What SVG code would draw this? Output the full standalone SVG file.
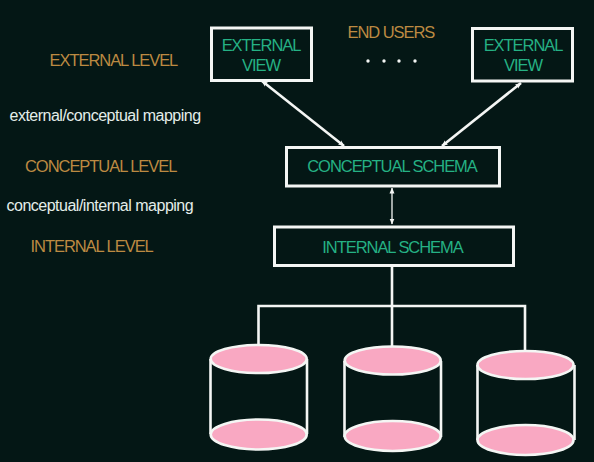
<svg xmlns="http://www.w3.org/2000/svg" width="594" height="462" viewBox="0 0 594 462">
<style>
text{font-family:"Liberation Sans",Arial,sans-serif;font-size:16.5px;letter-spacing:-1.05px}
.g{fill:#25b184;text-anchor:middle}
.o{fill:#bc8a42}
.w{fill:#e4eeea;font-size:16px;letter-spacing:-.5px}
.b{fill:none;stroke:#f4f6f4;stroke-width:3}
.c{fill:none;stroke:#f4f6f4;stroke-width:2.6}
.p{fill:#f9a8c2;stroke:#f4f6f4;stroke-width:2.6}
.l{fill:none;stroke:#f4f6f4;stroke-width:2.6}
.t{fill:none;stroke:#f4f6f4;stroke-width:1.3}
.d{fill:#f4f6f4}
</style>
<defs>
<marker id="a" viewBox="0 0 6 6" refX="5.5" refY="3" markerWidth="6" markerHeight="6" markerUnits="userSpaceOnUse" orient="auto-start-reverse"><path d="M0 .5L6 3L0 5.5Z" fill="#f4f6f4"/></marker>
</defs>
<rect width="594" height="462" fill="#041715"/>
<g id="connectors">
<path class="l" d="M262 81L344 146" marker-start="url(#a)" marker-end="url(#a)"/>
<path class="l" d="M521 83L442 146" marker-start="url(#a)" marker-end="url(#a)"/>
<path class="t" d="M392 188V224" marker-start="url(#a)" marker-end="url(#a)"/>
<path class="l" d="M392 266V346M258.500 345V306H525V350"/>
</g>
<g id="external-view-1"><rect class="b" x="211.500" y="28" width="100" height="52.500"/><text class="g" x="261" y="50.500">EXTERNAL</text><text class="g" x="261" y="70.500">VIEW</text></g>
<g id="external-view-2"><rect class="b" x="472.500" y="28.500" width="100" height="52.500"/><text class="g" x="523" y="50.500">EXTERNAL</text><text class="g" x="523" y="70.500">VIEW</text></g>
<g id="conceptual-schema"><rect class="b" x="286.500" y="147.500" width="213" height="38.500"/><text class="g" x="392" y="172">CONCEPTUAL SCHEMA</text></g>
<g id="internal-schema"><rect class="b" x="274.500" y="227" width="239" height="38.500"/><text class="g" x="392.500" y="252.500">INTERNAL SCHEMA</text></g>
<g id="end-users"><text class="o" x="347.500" y="37.500">END USERS</text><circle class="d" cx="368" cy="61" r="1.700"/><circle class="d" cx="384" cy="61" r="1.700"/><circle class="d" cx="399" cy="61" r="1.700"/><circle class="d" cx="415" cy="61" r="1.700"/></g>
<g id="level-labels">
<text class="o" x="49.500" y="65.500">EXTERNAL LEVEL</text>
<text class="w" x="9.500" y="120.500">external/conceptual mapping</text>
<text class="o" x="25" y="171.500">CONCEPTUAL LEVEL</text>
<text class="w" x="6.500" y="210.500">conceptual/internal mapping</text>
<text class="o" x="30.500" y="251.500">INTERNAL LEVEL</text>
</g>
<g id="cylinder-1"><path class="c" d="M210.500 359V434M307 359V434"/><ellipse class="p" cx="258.700" cy="434.500" rx="48" ry="15"/><ellipse class="p" cx="258.700" cy="359" rx="48" ry="14"/></g>
<g id="cylinder-2"><path class="c" d="M344.500 361V437M441 361V437"/><ellipse class="p" cx="392.700" cy="436" rx="48" ry="15"/><ellipse class="p" cx="392.700" cy="360.500" rx="48" ry="14"/></g>
<g id="cylinder-3"><path class="c" d="M477.500 365V440M574.500 365V440"/><ellipse class="p" cx="525.500" cy="440" rx="48" ry="15"/><ellipse class="p" cx="525.500" cy="365" rx="48" ry="14"/></g>
</svg>
